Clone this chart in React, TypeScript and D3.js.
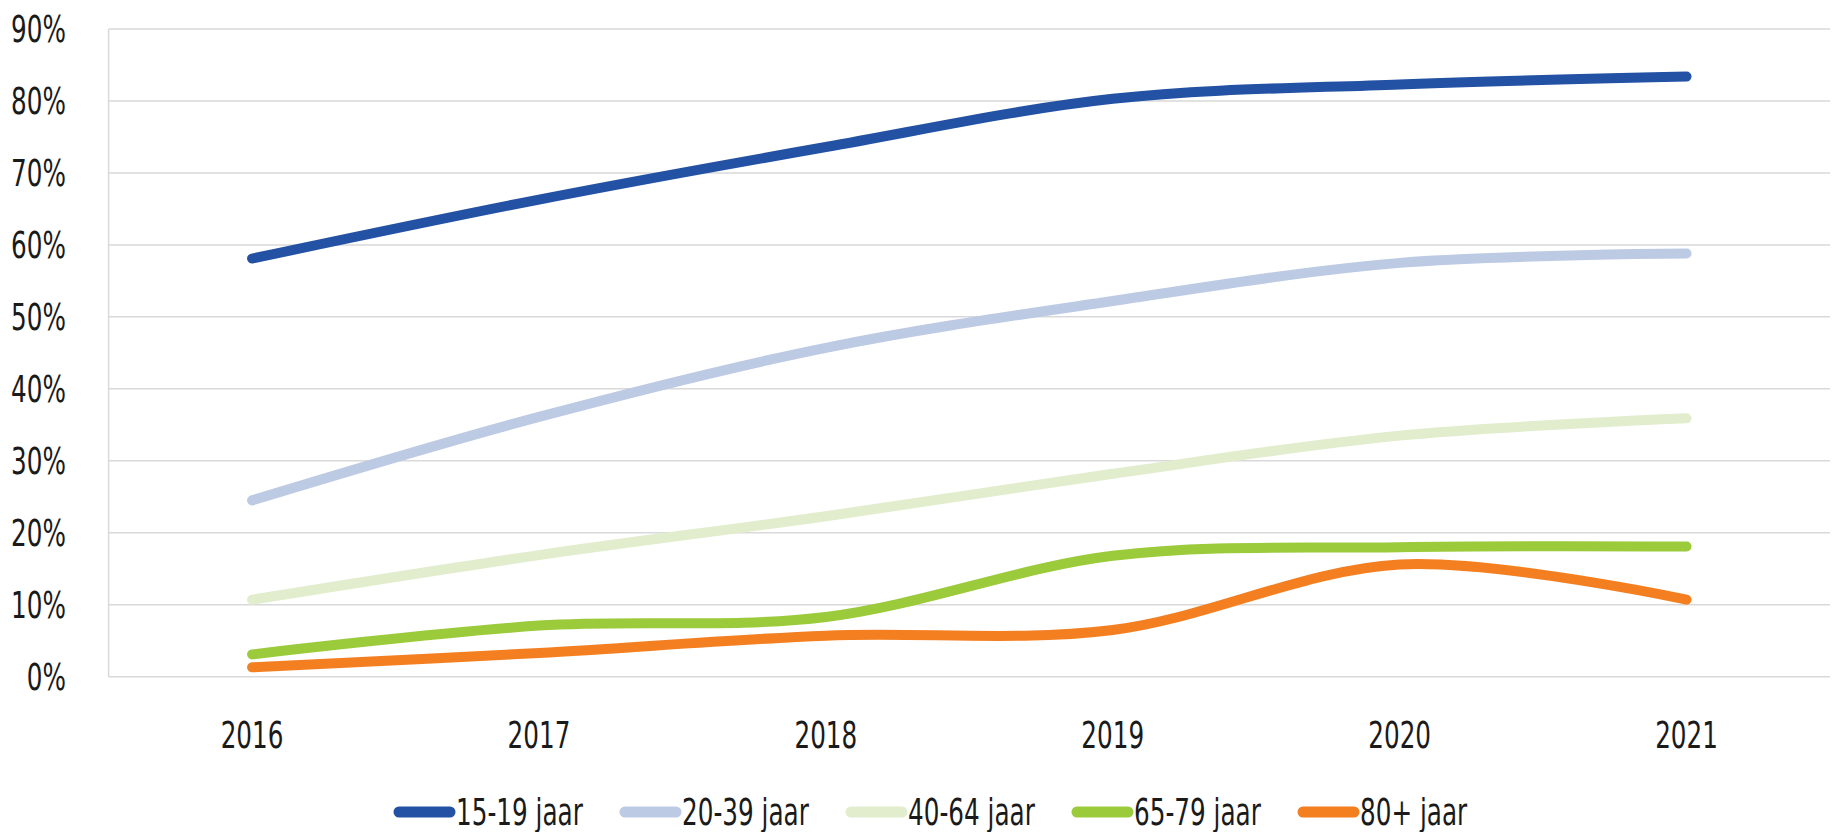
import React from "react";
import * as d3 from "d3";

// jaren op de x-as
const years = ["2016", "2017", "2018", "2019", "2020", "2021"];

// aandeel per leeftijdsgroep
const age15to19 = [0.581, 0.663, 0.736, 0.803, 0.823, 0.834];
const age20to39 = [0.245, 0.361, 0.457, 0.522, 0.575, 0.588];
const age40to64 = [0.107, 0.169, 0.223, 0.282, 0.335, 0.359];
const age65to79 = [0.031, 0.071, 0.083, 0.168, 0.180, 0.181];
const age80plus = [0.013, 0.033, 0.057, 0.065, 0.156, 0.107];

const seriesNames = ["15-19 jaar", "20-39 jaar", "40-64 jaar", "65-79 jaar", "80+ jaar"];
const seriesColors = ["#2351a3", "#bdcae3", "#e1edcc", "#9bca3a", "#f47f21"];
const yTicks = [0, 0.1, 0.2, 0.3, 0.4, 0.5, 0.6, 0.7, 0.8, 0.9];

const WIDTH = 1843;
const HEIGHT = 832;
const FONT = "'DejaVu Sans', sans-serif";
const SQUEEZE = 0.65; // geen smalle letter beschikbaar, dus horizontaal samendrukken

// tekst die horizontaal wordt samengedrukt rond zijn ankerpunt
function NarrowText(props: { x: number; y: number; anchor?: string; children: React.ReactNode }) {
    return (
        <text transform={`translate(${props.x},${props.y}) scale(${SQUEEZE},1)`}
            textAnchor={props.anchor || "start"} dominantBaseline="central"
            fontFamily={FONT} fontSize={38} fill="#1a1a1a">{props.children}</text>
    );
}

export default function App() {
    const series = [age15to19, age20to39, age40to64, age65to79, age80plus];

    const x = d3.scaleBand()
        .domain(years)
        .range([108.6, 1830]);
    const y = d3.scaleLinear()
        .domain([0, 0.9])
        .range([676.7, 29]);

    const cx = (yr: string) => (x(yr) as number) + x.bandwidth() / 2;

    const line = d3.line<number>()
        .x((d, i) => cx(years[i]))
        .y((d) => y(d))
        .curve(d3.curveCardinal.tension(0));

    const fmt = d3.format(".0%");

    // legenda: items met vaste breedte
    const legendStart = 394;
    const legendStep = 226;
    const legendY = 812;

    return (
        <svg width={WIDTH} height={HEIGHT}
            style={{ position: "absolute", left: 0, top: 0, background: "#fff" }}>
            {/* rasterlijnen */}
            {yTicks.map((t) => (
                <line key={t} x1={x.range()[0]} x2={x.range()[1]} y1={y(t)} y2={y(t)}
                    stroke="#d9d9d9" strokeWidth={1.5} />
            ))}
            <line x1={x.range()[0]} x2={x.range()[0]} y1={y(0.9)} y2={y(0)}
                stroke="#d9d9d9" strokeWidth={1.5} />

            {/* y-as labels */}
            {yTicks.map((t) => (
                <NarrowText key={"l" + t} x={66} y={y(t)} anchor="end">{fmt(t)}</NarrowText>
            ))}

            {/* x-as labels */}
            {years.map((yr) => (
                <NarrowText key={yr} x={cx(yr)} y={735} anchor="middle">{yr}</NarrowText>
            ))}

            {/* lijnen */}
            {series.map((s, idx) => (
                <path key={seriesNames[idx]} d={line(s) || ""} fill="none"
                    stroke={seriesColors[idx]} strokeWidth={10}
                    strokeLinecap="round" strokeLinejoin="round" />
            ))}

            {/* legenda */}
            {seriesNames.map((name, idx) => {
                const lx = legendStart + idx * legendStep;
                return (
                    <g key={"lg" + name}>
                        <line x1={lx + 5} x2={lx + 56} y1={legendY} y2={legendY}
                            stroke={seriesColors[idx]} strokeWidth={11} strokeLinecap="round" />
                        <NarrowText x={lx + 62} y={legendY}>{name}</NarrowText>
                    </g>
                );
            })}
        </svg>
    );
}
